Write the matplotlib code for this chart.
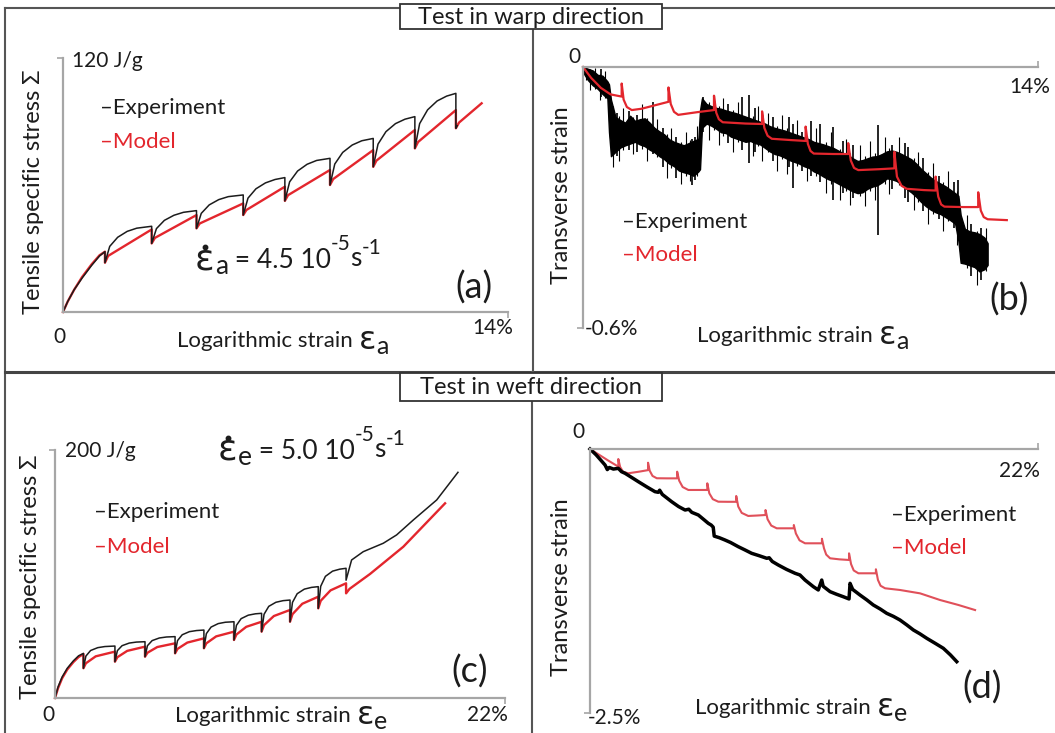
import matplotlib
matplotlib.use('Agg')
import matplotlib.pyplot as plt
from matplotlib.patches import Rectangle
from matplotlib.lines import Line2D

W, H = 1055, 733
FONT = ['Lato', 'DejaVu Sans']
GREEK = ['DejaVu Sans']
INK = '#1c1c1c'
RED = '#e3262d'
PINK = '#e0505a'
AXIS = '#a6a6a6'

# ---------------- (a) warp, stress vs strain ----------------
a_exp_x = [0, 0.15, 0.35, 0.60, 0.90, 1.15, 1.32, 1.32, 1.47, 1.72, 2.02, 2.32, 2.79, 2.79,
           2.94, 3.19, 3.49, 3.79, 4.20, 4.20, 4.35, 4.60, 4.90, 5.20, 5.67, 5.67,
           5.82, 6.07, 6.37, 6.67, 6.98, 6.98, 7.13, 7.38, 7.68, 7.98, 8.40, 8.40,
           8.55, 8.80, 9.10, 9.40, 9.76, 9.76, 9.91, 10.16, 10.46, 10.76, 11.07, 11.07,
           11.22, 11.47, 11.77, 12.07, 12.36, 12.36, 12.40]
a_exp_y = [0, 5, 10.5, 16, 22, 26.5, 28.5, 23.3, 31.0, 35.3, 38.1, 39.6, 40.5, 32.4,
           39.4, 43.3, 45.7, 47.1, 47.9, 39.5, 46.6, 50.6, 53.1, 54.5, 55.3, 45.8,
           53.8, 58.2, 61.0, 62.6, 63.5, 52.5, 61.5, 66.6, 69.8, 71.6, 72.6, 60.0,
           69.9, 75.4, 78.9, 80.9, 82.0, 68.6, 79.3, 85.2, 89.0, 91.1, 92.3, 77.3,
           89.0, 95.5, 99.7, 102.0, 103.3, 86.8, 88.0]
a_mod_x = [0, 0.15, 0.35, 0.60, 0.90, 1.15, 1.32, 1.32, 1.42, 2.79, 2.79, 2.89, 4.20, 4.20,
           4.30, 5.67, 5.67, 5.77, 6.98, 6.98, 7.08, 8.40, 8.40, 8.50, 9.76, 9.76,
           9.86, 11.07, 11.07, 11.17, 12.36, 12.36, 12.46, 13.17]
a_mod_y = [0, 5, 10.5, 16.5, 22.5, 26.8, 28.5, 23.3, 26.5, 39.0, 32.4, 35.0, 45.8, 39.5,
           41.8, 51.3, 45.8, 48.2, 59.2, 52.5, 55.2, 67.1, 60.0, 62.8, 76.5, 68.6,
           71.5, 86.0, 77.3, 80.3, 95.4, 86.8, 89.5, 98.6]

# ---------------- (b) warp, transverse strain ----------------
b_mod_x = [0, 0.25, 0.55, 0.85, 1.19, 1.19, 1.25, 1.35, 1.50, 1.80, 2.63,
           2.63, 2.70, 2.80, 2.93, 3.50, 4.03, 4.03, 4.10, 4.18, 4.30, 5.00, 5.51,
           5.51, 5.58, 5.68, 5.81, 6.40, 6.85, 6.85, 6.92, 7.00, 7.10, 7.70, 8.16,
           8.16, 8.24, 8.34, 8.47, 9.10, 9.58, 9.58, 9.66, 9.80, 9.96, 10.50, 10.85,
           10.85, 10.93, 11.02, 11.12, 11.70, 12.16, 12.16, 12.24, 12.33, 12.45, 13.04]
b_mod_y = [0, -0.025, -0.048, -0.063, -0.068, -0.038, -0.075, -0.092, -0.099, -0.096, -0.080,
           -0.047, -0.085, -0.103, -0.110, -0.104, -0.099, -0.066, -0.105, -0.120, -0.127, -0.130, -0.131,
           -0.102, -0.140, -0.158, -0.165, -0.168, -0.170, -0.137, -0.177, -0.193, -0.199, -0.200, -0.200,
           -0.175, -0.215, -0.232, -0.237, -0.235, -0.233, -0.195, -0.252, -0.273, -0.280, -0.283, -0.284,
           -0.252, -0.298, -0.316, -0.321, -0.322, -0.322, -0.288, -0.330, -0.345, -0.350, -0.352]
# experiment: noisy band (upper / lower edge) plus the larger spikes and the fine fuzz
b_exp_x = [0.00, 0.15, 0.30, 0.45, 0.60, 0.75, 0.80, 0.86, 1.00, 1.15, 1.30, 1.45, 1.60, 1.75,
           1.90, 2.05, 2.20, 2.35, 2.50, 2.65, 2.80, 2.95, 3.10, 3.25, 3.40, 3.55, 3.60, 3.66,
           3.80, 3.95, 4.10, 4.25, 4.40, 4.55, 4.70, 4.85, 5.00, 5.15, 5.30, 5.45, 5.60, 5.75,
           5.90, 6.05, 6.20, 6.35, 6.50, 6.65, 6.80, 6.95, 7.10, 7.25, 7.40, 7.55, 7.70, 7.85,
           8.00, 8.15, 8.30, 8.45, 8.60, 8.75, 8.90, 9.05, 9.20, 9.35, 9.50, 9.65, 9.80, 9.95,
           10.10, 10.25, 10.40, 10.55, 10.70, 10.85, 11.00, 11.15, 11.30, 11.45, 11.55, 11.62,
           11.75, 11.90, 12.05, 12.20, 12.35, 12.45]
b_exp_hi = [0.000, -0.004, -0.008, -0.018, -0.020, -0.033, -0.040, -0.075, -0.115, -0.122, -0.128, -0.112, -0.124, -0.120,
            -0.118, -0.128, -0.140, -0.148, -0.155, -0.166, -0.172, -0.176, -0.180, -0.175, -0.170, -0.165, -0.100, -0.072,
            -0.085, -0.090, -0.094, -0.096, -0.100, -0.103, -0.106, -0.110, -0.114, -0.118, -0.122, -0.126, -0.130, -0.136,
            -0.140, -0.143, -0.146, -0.150, -0.154, -0.158, -0.162, -0.166, -0.172, -0.175, -0.178, -0.182, -0.186, -0.192,
            -0.198, -0.202, -0.210, -0.216, -0.214, -0.210, -0.206, -0.205, -0.200, -0.194, -0.192, -0.195, -0.200, -0.206,
            -0.212, -0.222, -0.234, -0.244, -0.254, -0.262, -0.268, -0.274, -0.282, -0.290, -0.296, -0.340,
            -0.372, -0.378, -0.380, -0.384, -0.392, -0.405]
b_exp_lo = [-0.012, -0.030, -0.042, -0.050, -0.062, -0.072, -0.150, -0.205, -0.195, -0.185, -0.180, -0.176, -0.172, -0.178,
            -0.182, -0.190, -0.196, -0.205, -0.212, -0.222, -0.228, -0.238, -0.242, -0.245, -0.250, -0.240, -0.235, -0.140,
            -0.130, -0.135, -0.142, -0.150, -0.152, -0.160, -0.164, -0.168, -0.172, -0.170, -0.175, -0.178, -0.186, -0.194,
            -0.200, -0.203, -0.208, -0.214, -0.218, -0.222, -0.228, -0.232, -0.240, -0.245, -0.252, -0.258, -0.262, -0.268,
            -0.274, -0.280, -0.286, -0.290, -0.288, -0.280, -0.275, -0.272, -0.265, -0.256, -0.258, -0.262, -0.270, -0.280,
            -0.288, -0.298, -0.310, -0.320, -0.328, -0.334, -0.338, -0.345, -0.352, -0.360, -0.400, -0.450,
            -0.452, -0.456, -0.460, -0.470, -0.465, -0.455]
b_spk_x = [0.55, 1.05, 1.40, 1.65, 2.15, 2.45, 2.85, 3.35, 3.45, 3.70, 4.45, 4.90, 5.10, 5.30,
           5.85, 6.35, 6.45, 6.75, 7.00, 7.30, 7.70, 8.00, 8.30, 9.09, 9.50, 9.90, 10.00,
           10.45, 10.95, 11.40, 11.55, 11.95, 12.25]
b_spk_hi = [-0.005, -0.105, -0.100, -0.110, -0.080, -0.140, -0.160, -0.165, -0.160, -0.070, -0.085, -0.070, -0.065, -0.095,
            -0.115, -0.115, -0.130, -0.150, -0.125, -0.130, -0.138, -0.170, -0.180, -0.133, -0.180, -0.175, -0.184,
            -0.210, -0.250, -0.265, -0.260, -0.360, -0.370]
b_spk_lo = [-0.070, -0.205, -0.190, -0.195, -0.200, -0.230, -0.255, -0.272, -0.260, -0.150, -0.175, -0.190, -0.220, -0.195,
            -0.215, -0.230, -0.278, -0.240, -0.250, -0.265, -0.306, -0.290, -0.300, -0.386, -0.280, -0.300, -0.310,
            -0.330, -0.350, -0.370, -0.400, -0.480, -0.490]
b_fuzz_x = [0.10, 0.22, 0.38, 0.52, 0.68, 0.92, 1.10, 1.22, 1.55, 1.82, 1.98, 2.28, 2.58, 2.72,
            3.02, 3.18, 3.30, 3.52, 3.88, 4.02, 4.18, 4.32, 4.62, 4.78, 5.22, 5.38, 5.52, 5.68,
            5.98, 6.12, 6.28, 6.58, 6.88, 7.18, 7.48, 7.62, 7.92, 8.08, 8.22, 8.52, 8.68, 8.82,
            8.98, 9.28, 9.42, 9.72, 10.18, 10.32, 10.62, 10.78, 11.08, 11.22, 11.50, 11.82, 12.12, 12.40]
b_fuzz_hi = [0.000, -0.004, -0.002, -0.015, -0.010, -0.090, -0.112, -0.095, -0.115, -0.085, -0.118, -0.120, -0.155, -0.140,
             -0.172, -0.150, -0.168, -0.135, -0.080, -0.065, -0.090, -0.072, -0.099, -0.080, -0.112, -0.090, -0.122, -0.105,
             -0.135, -0.110, -0.140, -0.122, -0.158, -0.140, -0.172, -0.150, -0.188, -0.165, -0.198, -0.180, -0.205, -0.170,
             -0.198, -0.160, -0.186, -0.160, -0.210, -0.195, -0.242, -0.220, -0.265, -0.240, -0.286, -0.340, -0.376, -0.370]
b_fuzz_lo = [-0.030, -0.052, -0.050, -0.075, -0.072, -0.230, -0.215, -0.190, -0.200, -0.188, -0.215, -0.208, -0.255, -0.232,
             -0.270, -0.250, -0.262, -0.250, -0.168, -0.145, -0.180, -0.158, -0.195, -0.172, -0.205, -0.182, -0.215, -0.196,
             -0.238, -0.212, -0.245, -0.228, -0.262, -0.250, -0.290, -0.268, -0.305, -0.284, -0.318, -0.296, -0.320, -0.285,
             -0.305, -0.268, -0.292, -0.272, -0.328, -0.310, -0.360, -0.338, -0.378, -0.355, -0.410, -0.462, -0.500, -0.470]

# ---------------- (c) weft, stress vs strain ----------------
c_exp_x = [0, 0.15, 0.35, 0.60, 0.90, 1.15, 1.39, 1.39, 1.51, 1.74, 2.09, 2.44, 2.93, 2.93,
           3.05, 3.28, 3.63, 3.98, 4.40, 4.40, 4.52, 4.75, 5.10, 5.45, 5.87, 5.87,
           5.99, 6.22, 6.57, 6.92, 7.28, 7.28, 7.40, 7.63, 7.98, 8.33, 8.75, 8.75,
           8.87, 9.10, 9.45, 9.80, 10.10, 10.10, 10.22, 10.45, 10.80, 11.15, 11.49, 11.49,
           11.61, 11.84, 12.19, 12.54, 12.87, 12.87, 12.99, 13.22, 13.57, 13.92, 14.23, 14.23,
           14.50, 15.07, 16.05, 16.70, 17.52, 18.66, 19.70]
c_exp_y = [0, 9, 17, 24, 30, 34, 36.0, 24.0, 33.8, 38.3, 40.6, 41.5, 41.9, 29.3,
           38.2, 42.2, 44.3, 45.1, 45.4, 33.3, 42.2, 46.3, 48.4, 49.2, 49.5, 36.0,
           46.3, 51.0, 53.5, 54.4, 54.8, 40.1, 51.9, 57.2, 60.0, 61.1, 61.5, 46.8,
           58.6, 64.0, 66.8, 67.9, 68.3, 53.5, 67.5, 73.9, 77.2, 78.5, 79.0, 61.5,
           77.1, 84.1, 87.8, 89.2, 89.8, 72.3, 90.1, 98.1, 102.3, 103.9, 104.6, 95.0,
           111.3, 118.0, 124.8, 131.5, 143.6, 159.7, 182.0]
c_mod_x = [0, 0.15, 0.35, 0.60, 0.90, 1.15, 1.39, 1.39, 1.51, 1.99, 2.93, 2.93, 3.05, 3.53,
           4.40, 4.40, 4.52, 5.00, 5.87, 5.87, 5.99, 6.47, 7.28, 7.28, 7.40, 7.88, 8.75, 8.75,
           8.87, 9.35, 10.10, 10.10, 10.22, 10.70, 11.49, 11.49, 11.61, 12.09, 12.87, 12.87,
           12.99, 13.47, 14.23, 14.23, 14.40, 15.40, 17.03, 19.07]
c_mod_y = [0, 8, 16, 23, 29, 33, 35.5, 24.0, 28.0, 33.6, 37.4, 29.3, 32.9, 38.0,
           41.4, 33.3, 36.5, 41.1, 44.1, 36.0, 39.6, 44.7, 48.1, 40.1, 44.1, 49.7, 53.5, 46.8,
           51.2, 57.4, 61.5, 53.5, 58.8, 66.1, 71.0, 61.5, 67.6, 76.0, 81.7, 72.3,
           78.4, 86.8, 92.5, 84.4, 88.0, 100.0, 122.0, 157.0]

# ---------------- (d) weft, transverse strain ----------------
d_mod_x = [0, 0.45, 0.90, 1.39, 1.39, 1.48, 1.62, 1.88, 2.40, 2.85,
           2.85, 2.93, 3.07, 3.28, 3.80, 4.28, 4.28, 4.38, 4.55, 4.83, 5.30, 5.76,
           5.76, 5.86, 6.03, 6.30, 6.75, 7.18, 7.18, 7.28, 7.45, 7.77, 8.20, 8.62,
           8.62, 8.72, 8.90, 9.17, 9.60, 10.01, 10.01, 10.11, 10.29, 10.56, 11.00, 11.39,
           11.39, 11.49, 11.60, 11.79, 12.25, 12.72, 12.72, 12.82, 12.95, 13.18, 13.60, 14.04,
           14.04, 14.14, 14.27, 14.49, 15.22, 16.21, 17.19, 18.09, 18.91]
d_mod_y = [0, -0.055, -0.110, -0.167, -0.095, -0.170, -0.215, -0.230, -0.215, -0.200,
           -0.130, -0.205, -0.255, -0.277, -0.278, -0.278, -0.215, -0.300, -0.360, -0.388, -0.388, -0.388,
           -0.325, -0.420, -0.475, -0.499, -0.500, -0.500, -0.445, -0.545, -0.605, -0.634, -0.630, -0.625,
           -0.578, -0.665, -0.725, -0.751, -0.751, -0.751, -0.720, -0.800, -0.865, -0.893, -0.893, -0.893,
           -0.850, -0.940, -1.000, -1.035, -1.045, -1.051, -0.988, -1.090, -1.150, -1.177, -1.177, -1.177,
           -1.139, -1.240, -1.295, -1.319, -1.335, -1.367, -1.430, -1.477, -1.525]
d_exp_x = [0, 0.30, 0.55, 0.74, 0.85, 0.95, 1.15, 1.39, 1.55, 1.72, 2.05, 2.37, 2.80, 3.19,
           3.35, 3.42, 3.55, 4.01, 4.35, 4.67, 4.85, 5.00, 5.32, 5.60, 5.81, 5.95, 6.05, 6.10,
           6.35, 6.63, 6.90, 7.28, 7.60, 7.94, 8.30, 8.68, 8.80, 8.95, 9.25, 9.65, 10.07, 10.31,
           10.56, 10.97, 11.21, 11.38, 11.45, 11.79, 12.10, 12.44, 12.72, 12.77, 12.90, 13.26,
           13.60, 13.91, 14.25, 14.57, 14.90, 15.22, 15.55, 15.88, 16.20, 16.54, 16.95, 17.35,
           17.70, 18.01]
d_exp_y = [0, -0.055, -0.110, -0.152, -0.195, -0.175, -0.190, -0.183, -0.215, -0.230, -0.270, -0.309, -0.360, -0.404,
           -0.410, -0.390, -0.430, -0.499, -0.545, -0.578, -0.570, -0.600, -0.625, -0.670, -0.704, -0.720, -0.740, -0.825,
           -0.840, -0.862, -0.885, -0.925, -0.955, -0.988, -1.010, -1.035, -1.030, -1.065, -1.099, -1.140, -1.177, -1.193,
           -1.241, -1.304, -1.335, -1.241, -1.300, -1.351, -1.375, -1.399, -1.420, -1.272, -1.330, -1.383,
           -1.430, -1.477, -1.515, -1.556, -1.585, -1.619, -1.665, -1.714, -1.750, -1.793, -1.840, -1.887,
           -1.950, -2.014]


fig = plt.figure(figsize=(W / 100, H / 100), dpi=100)
fig.patch.set_facecolor('white')
renderer = fig.canvas.get_renderer()

TICK = 15
LAB = 17
LEG = 16


def put(px, py, s, size=14, color=INK, ha='left', va='baseline', family=FONT, **kw):
    return fig.text(px / W, 1 - py / H, s, fontsize=size, color=color, ha=ha, va=va,
                    family=family, **kw)


def chain(px, py, parts, color=INK):
    # lay text pieces one after another, each with its own size and baseline shift
    x = px
    boxes = []
    for s, size, dy, fam in parts:
        t = put(x, py + dy, s, size, color, family=fam)
        bb = t.get_window_extent(renderer)
        boxes.append(bb)
        x = bb.x1
    return boxes


def fline(x0, y0, x1, y1, lw=1.5, color='#555555'):
    fig.add_artist(Line2D([x0 / W, x1 / W], [1 - y0 / H, 1 - y1 / H],
                          transform=fig.transFigure, color=color, lw=lw))


def panel(left, top, right, bottom, xlim, ylim, xside, yside):
    ax = fig.add_axes([left / W, 1 - bottom / H, (right - left) / W, (bottom - top) / H])
    ax.set_xlim(*xlim)
    ax.set_ylim(*ylim)
    ax.patch.set_alpha(0)
    for s in ax.spines.values():
        s.set_visible(False)
    for s in (xside, yside):
        ax.spines[s].set_visible(True)
        ax.spines[s].set_color(AXIS)
        ax.spines[s].set_linewidth(1.6)
    if xside == 'top':
        ax.xaxis.tick_top()
        ax.set_xticks([xlim[1]])
        ax.set_yticks([ylim[0]])
    else:
        ax.set_xticks([xlim[1]])
        ax.set_yticks([ylim[1]])
    ax.tick_params(length=4, width=1.2, color=AXIS, labelbottom=False, labelleft=False,
                   labeltop=False, labelright=False)
    return ax


def strain_label(px, py, sub):
    chain(px, py, [('Logarithmic strain ', 16, 0, FONT),
                   ('ε', 23, 2, GREEK),
                   (sub, 18, 7, FONT)])


def legend(px, py_exp, py_mod):
    put(px, py_exp, '–Experiment', LEG, INK)
    put(px, py_mod, '–Model', LEG, RED)


def rate(px, py, sub, value):
    bbs = chain(px, py, [('ε', 26, 1, GREEK), (sub, 19, 6, FONT), (' = ' + value + ' 10', 19, 0, FONT),
                         ('-5', 15, -18, FONT), ('s', 19, -2, FONT), ('-1', 15, -14, FONT)])
    eps = bbs[0]
    # the dot over epsilon (a marker, not a text)
    fig.add_artist(Line2D([(eps.x0 + eps.x1) / 2 / W], [1 - (py - 21) / H], transform=fig.transFigure,
                          marker='o', ms=3.2, color=INK, lw=0))


# ---------------- frame and titles ----------------
fline(5, 8, 1055, 8)
fline(5, 8, 5, 733)
fline(5, 372, 1055, 372, lw=2.2, color='#444444')
fline(533, 8, 533, 372)
fline(532, 372, 532, 733)
for (x0, y0, x1, y1, title) in [(400, 4, 662, 29, 'Test in warp direction'),
                                (400, 373, 662, 401, 'Test in weft direction')]:
    fig.add_artist(Rectangle((x0 / W, 1 - y1 / H), (x1 - x0) / W, (y1 - y0) / H,
                             transform=fig.transFigure, facecolor='white',
                             edgecolor='#333333', lw=1.3, zorder=5))
    t = put((x0 + x1) / 2, (y0 + y1) / 2 + 1, title, 17, INK, ha='center', va='center')
    t.set_zorder(6)

# ---------------- (a) ----------------
ax = panel(63, 58, 508, 312, (0, 14), (0, 120), 'bottom', 'left')
ax.plot(a_mod_x, a_mod_y, color=RED, lw=1.7, clip_on=False)
ax.plot(a_exp_x, a_exp_y, color=INK, lw=1.1, clip_on=False)
put(72, 67, '120 J/g', TICK)
put(53, 343, '0', TICK)
put(472, 334, '14%', TICK)
put(34, 192, 'Tensile specific stress Σ', LAB, ha='center', va='center', rotation=90)
legend(100, 114, 148)
rate(195, 268, 'a', '4.5')
put(474, 288, '(a)', 26, ha='center', va='center')
strain_label(177, 347, 'a')

# ---------------- (b) ----------------
ax = panel(583, 67, 1038, 328, (0, 14), (-0.6, 0), 'top', 'left')
ax.fill_between(b_exp_x, b_exp_lo, b_exp_hi, color='black', lw=1.0)
ax.vlines(b_spk_x, b_spk_lo, b_spk_hi, color='black', lw=1.2)
ax.vlines(b_fuzz_x, b_fuzz_lo, b_fuzz_hi, color='black', lw=0.8)
ax.plot(b_mod_x, b_mod_y, color=RED, lw=1.6, clip_on=False)
put(568, 63, '0', TICK)
put(1009, 93, '14%', TICK)
put(585, 335, '-0.6%', TICK)
put(561, 195, 'Transverse strain', LAB, ha='center', va='center', rotation=90)
legend(622, 228, 261)
put(1009, 300, '(b)', 26, ha='center', va='center')
strain_label(697, 342, 'a')

# ---------------- (c) ----------------
ax = panel(55, 450, 505, 698, (0, 22), (0, 200), 'bottom', 'left')
ax.plot(c_mod_x, c_mod_y, color=RED, lw=1.7, clip_on=False)
ax.plot(c_exp_x, c_exp_y, color=INK, lw=1.1, clip_on=False)
put(65, 457, '200 J/g', TICK)
put(42, 721, '0', TICK)
put(467, 721, '22%', TICK)
put(31, 577, 'Tensile specific stress Σ', LAB, ha='center', va='center', rotation=90)
legend(94, 518, 553)
rate(218, 459, 'e', '5.0')
put(470, 672, '(c)', 26, ha='center', va='center')
strain_label(175, 722, 'e')

# ---------------- (d) ----------------
ax = panel(590, 449, 1038, 713, (0, 22), (-2.5, 0), 'top', 'left')
ax.plot(d_mod_x, d_mod_y, color=PINK, lw=1.5, clip_on=False)
ax.plot(d_exp_x, d_exp_y, color='black', lw=2.5, clip_on=False)
put(572, 438, '0', TICK)
put(999, 477, '22%', TICK)
put(588, 724, '-2.5%', TICK)
put(561, 587, 'Transverse strain', LAB, ha='center', va='center', rotation=90)
legend(891, 521, 554)
put(982, 688, '(d)', 26, ha='center', va='center')
strain_label(695, 714, 'e')

fig.savefig('out.png', dpi=100)
